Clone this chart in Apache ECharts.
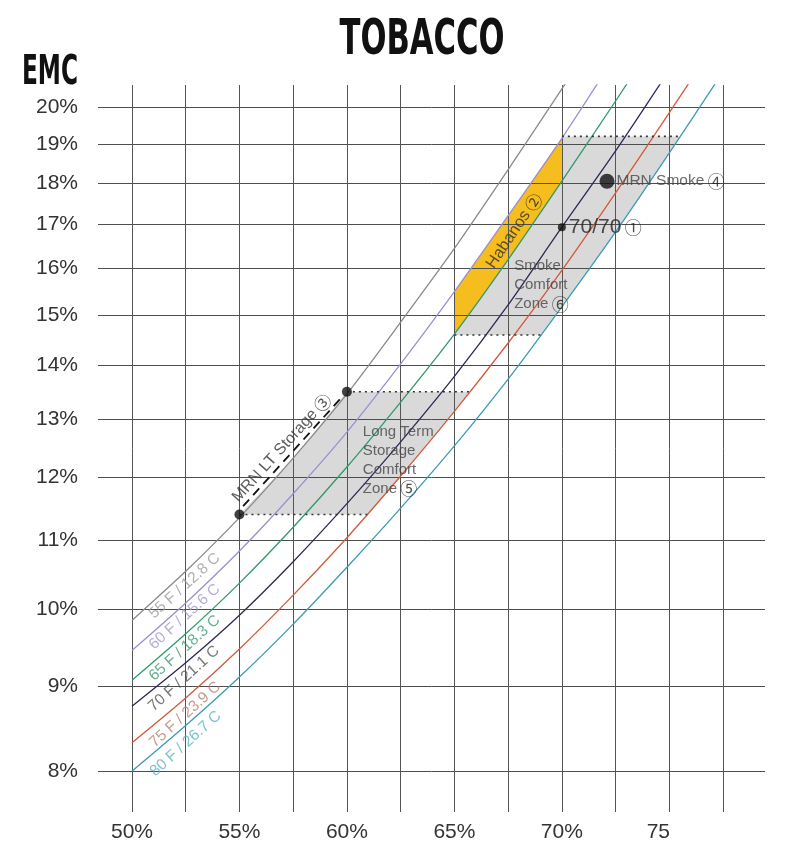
<!DOCTYPE html>
<html><head><meta charset="utf-8">
<script src="https://cdn.jsdelivr.net/npm/echarts@6/dist/echarts.min.js"></script>
<style>html,body{margin:0;padding:0;background:#fff}#c{width:793px;height:854px}</style>
</head><body><div id="c"></div>
<script>
// ---------- data ----------
const rhGrid   = [50, 52.5, 55, 57.5, 60, 62.5, 65, 67.5, 70, 72.5, 75, 77.5];
const rhTicks  = [50, 55, 60, 65, 70, 75];
const emcTicks = [8, 9, 10, 11, 12, 13, 14, 15, 16, 17, 18, 19, 20];

const curveNames = ['55 F / 12.8 C', '60 F / 15.6 C', '65 F / 18.3 C', '70 F / 21.1 C', '75 F / 23.9 C', '80 F / 26.7 C'];
const emc55F = [9.85, 10.54, 11.35, 12.32, 13.46, 14.86, 16.45, 18.34, 20.50, 22.90];
const emc60F = [9.45, 10.09, 10.84, 11.73, 12.77, 14.03, 15.50, 17.21, 19.15, 21.47];
const emc65F = [9.07, 9.67, 10.37, 11.20, 12.17, 13.31, 14.62, 16.20, 18.05, 20.16, 22.56];
const emc70F = [8.75, 9.29, 9.92, 10.68, 11.57, 12.60, 13.79, 15.22, 16.94, 18.82, 21.04];
const emc75F = [8.32, 8.85, 9.47, 10.20, 11.04, 12.02, 13.14, 14.44, 15.96, 17.76, 19.84, 22.19];
const emc80F = [8.00, 8.52, 9.11, 9.80, 10.60, 11.50, 12.53, 13.74, 15.18, 16.83, 18.77, 20.99];

// curve label anchors (RH %, EMC %)
const curveLabelRH  = [52.45, 52.45, 52.45, 52.42, 52.48, 52.5];
const curveLabelEMC = [10.33, 9.90, 9.48, 9.09, 8.65, 8.31];

// annotations
const point7070      = [70, 16.94];
const pointMrnSmoke  = [72.1, 18.05];
const ltStoragePts   = [[55, 11.4], [60, 13.5]];
const ltStorageDash  = [[55.17, 11.53], [59.67, 13.36]];
const ltStorageLabel = [56.97, 12.49];
const ltZoneLabel    = [60.74, 12.29];
const smokeZone      = {rhMin: 65, rhTurn: 70, low: 14.6, high: 19.2};
const smokeZoneLabel = [67.78, 15.64];
const habanosLabel   = [67.78, 16.85];

// ---------- helpers ----------
const pairs = arr => arr.map((v, i) => [rhGrid[i], v]);
function crossX(arr, level) {
  for (let i = 0; i < arr.length - 1; i++) {
    const a = arr[i], b = arr[i + 1];
    if ((a - level) * (b - level) <= 0) {
      const t = (Math.log(level) - Math.log(a)) / (Math.log(b) - Math.log(a));
      return rhGrid[i] + t * (rhGrid[i + 1] - rhGrid[i]);
    }
  }
  return null;
}
function inner(arr, lo, hi) { return pairs(arr).filter(p => p[1] > lo && p[1] < hi); }
const at = (arr, rh) => arr[rhGrid.indexOf(rh)];

// Long-term storage zone: from the MRN LT storage line to the 75F curve
const ltLo = ltStoragePts[0][1], ltHi = ltStoragePts[1][1];
const ltPoly = [ltStoragePts[0]]
  .concat(inner(emc55F, ltLo, ltHi).filter(p => p[0] > ltStoragePts[0][0] && p[0] < ltStoragePts[1][0]))
  .concat([ltStoragePts[1], [crossX(emc75F, ltHi), ltHi]])
  .concat(inner(emc75F, ltLo, ltHi).reverse())
  .concat([[crossX(emc75F, ltLo), ltLo]]);

// Smoke comfort zone: right of 60F curve (65..70% RH), left of 80F curve
const sz = smokeZone;
const smokePoly = [[sz.rhMin, sz.low], [sz.rhMin, at(emc60F, sz.rhMin)]]
  .concat(pairs(emc60F).filter(p => p[0] > sz.rhMin && p[0] < sz.rhTurn))
  .concat([[sz.rhTurn, at(emc60F, sz.rhTurn)], [sz.rhTurn, sz.high], [crossX(emc80F, sz.high), sz.high]])
  .concat(inner(emc80F, sz.low, sz.high).reverse())
  .concat([[crossX(emc80F, sz.low), sz.low]]);

// Habanos: between 60F and 65F curves, 65..70% RH
const habPoly = pairs(emc60F).filter(p => p[0] >= sz.rhMin && p[0] <= sz.rhTurn)
  .concat(pairs(emc65F).filter(p => p[0] >= sz.rhMin && p[0] <= sz.rhTurn).reverse());

// ---------- chart ----------
const chart = echarts.init(document.getElementById('c'), null, {renderer: 'canvas', width: 793, height: 854});
const FONT = '"Liberation Sans", Arial, sans-serif';
const CIRC = '"Noto Sans CJK SC", "DejaVu Sans", sans-serif';

function polySeries(points, color, z) {
  return {
    type: 'custom', coordinateSystem: 'cartesian2d', silent: true, z: z,
    data: points,
    renderItem: (params, api) => {
      if (params.dataIndex !== 0) return null;
      return {type: 'polygon', shape: {points: points.map(p => api.coord(p))}, style: {fill: color}};
    }
  };
}
function dotted(a, b) {
  return {type: 'line', data: [a, b], symbol: 'none', silent: true, z: 6,
    lineStyle: {color: '#333', width: 1.6, type: [2, 4]}};
}

const curveColors = ['#8a8a8a', '#9b8fd0', '#2f9a6a', '#2c2858', '#d25a3c', '#3a9cb4'];
const labelColors = ['#9c9c9c', '#a49bc4', '#3f9a72', '#555555', '#b7836f', '#5db3c2'];
const curveData = [emc55F, emc60F, emc65F, emc70F, emc75F, emc80F];

const series = [];
series.push(polySeries(ltPoly, '#d9d9d9', 1));
series.push(polySeries(smokePoly, '#d9d9d9', 1));
series.push(polySeries(habPoly, '#f5bd1e', 1));

curveData.forEach((arr, i) => {
  series.push({
    type: 'line', name: curveNames[i], data: pairs(arr), symbol: 'none', smooth: 0.25,
    silent: true, z: 5, lineStyle: {color: curveColors[i], width: 1.3}
  });
  series.push({
    type: 'scatter', data: [[curveLabelRH[i], curveLabelEMC[i]]], symbolSize: 0, silent: true, z: 7,
    label: {show: true, position: 'inside', rotate: 42, formatter: curveNames[i],
      fontSize: 15.5, fontFamily: FONT, color: labelColors[i]}
  });
});

// dotted boundaries
series.push(dotted(ltStoragePts[0], [crossX(emc75F, ltLo), ltLo]));
series.push(dotted(ltStoragePts[1], [crossX(emc75F, ltHi), ltHi]));
series.push(dotted([sz.rhTurn, sz.high], [crossX(emc80F, sz.high), sz.high]));
series.push(dotted([sz.rhMin, sz.low], [crossX(emc80F, sz.low), sz.low]));

// MRN LT storage dashed line + dots
series.push({type: 'line', data: ltStorageDash, symbol: 'none', silent: true, z: 6,
  lineStyle: {color: '#111', width: 1.8, type: [9, 6]}});
series.push({type: 'scatter', data: ltStoragePts, symbolSize: 10, itemStyle: {color: '#111'}, z: 8, silent: true});

const rich = {
  c: {fontFamily: CIRC, fontSize: 17, color: '#222'}
};

// text annotations
series.push({type: 'scatter', data: [point7070], symbolSize: 8, itemStyle: {color: '#111'}, z: 8, silent: true,
  label: {show: true, position: 'right', distance: 3, formatter: '{a|70/70} {c|①}',
    rich: {a: {fontFamily: FONT, fontSize: 21, color: '#222'}, c: rich.c}}});
series.push({type: 'scatter', data: [pointMrnSmoke], symbolSize: 15, itemStyle: {color: '#111'}, z: 8, silent: true,
  label: {show: true, position: 'right', distance: 2, formatter: '{a|MRN Smoke} {c|④}',
    rich: {a: {fontFamily: FONT, fontSize: 15.5, color: '#444'}, c: rich.c}}});
series.push({type: 'scatter', data: [habanosLabel], symbolSize: 0, z: 8, silent: true,
  label: {show: true, position: 'inside', rotate: 56, formatter: '{a|Habanos} {c|②}',
    rich: {a: {fontFamily: FONT, fontSize: 16.5, color: '#333'}, c: rich.c}}});
series.push({type: 'scatter', data: [ltStorageLabel], symbolSize: 0, z: 8, silent: true,
  label: {show: true, position: 'inside', rotate: 48, formatter: '{a|MRN LT Storage} {c|③}',
    rich: {a: {fontFamily: FONT, fontSize: 16, color: '#333'}, c: rich.c}}});
series.push({type: 'scatter', data: [smokeZoneLabel], symbolSize: 0, z: 8, silent: true,
  label: {show: true, position: 'right', distance: 0, align: 'left',
    formatter: '{a|Smoke}\n{a|Comfort}\n{a|Zone} {c|⑥}',
    rich: {a: {fontFamily: FONT, fontSize: 15, color: '#444', lineHeight: 19}, c: Object.assign({}, rich.c, {lineHeight: 19})}}});
series.push({type: 'scatter', data: [ltZoneLabel], symbolSize: 0, z: 8, silent: true,
  label: {show: true, position: 'right', distance: 0, align: 'left',
    formatter: '{a|Long Term}\n{a|Storage}\n{a|Comfort}\n{a|Zone} {c|⑤}',
    rich: {a: {fontFamily: FONT, fontSize: 15, color: '#444', lineHeight: 19}, c: Object.assign({}, rich.c, {lineHeight: 19})}}});

// title texts squeezed to a condensed look
function measure(text, font) {
  const ctx = document.createElement('canvas').getContext('2d');
  ctx.font = font; return ctx.measureText(text).width;
}
const titleFont = 'bold 50px "Liberation Sans Narrow", "DejaVu Sans Condensed", "Liberation Sans", sans-serif';
const emcFont = 'bold 40px "Liberation Sans Narrow", "DejaVu Sans Condensed", "Liberation Sans", sans-serif';

chart.setOption({
  backgroundColor: '#fff',
  animation: false,
  grid: {left: 98, right: 28, top: 85, bottom: 42, containLabel: false},
  xAxis: {
    type: 'value', min: 48.42, max: 79.45, z: 3,
    axisLine: {show: false},
    axisTick: {show: false, customValues: rhGrid},
    axisLabel: {customValues: rhTicks, margin: 10, fontSize: 21, color: '#333', fontFamily: FONT,
      formatter: v => v === 75 ? '{s|75}' : v + '%',
      rich: {s: {padding: [0, 22, 0, 0], fontSize: 21, color: '#333', fontFamily: FONT}}},
    splitLine: {show: true, lineStyle: {color: '#555', width: 1}}
  },
  yAxis: {
    type: 'log', logBase: 10, min: 7.563, max: 20.61, z: 3,
    axisLine: {show: false},
    axisTick: {show: false, customValues: emcTicks},
    axisLabel: {customValues: emcTicks, margin: 20, fontSize: 21, color: '#333', fontFamily: FONT,
      formatter: v => Math.round(v) + '%'},
    splitLine: {show: true, lineStyle: {color: '#4d4d4d', width: 1}}
  },
  graphic: [
    {type: 'text', x: 422, y: 41, scaleX: 165 / measure('TOBACCO', titleFont),
      style: {text: 'TOBACCO', font: titleFont, fill: '#111', textAlign: 'center', textVerticalAlign: 'middle'}},
    {type: 'text', x: 50, y: 74, scaleX: 56 / measure('EMC', emcFont),
      style: {text: 'EMC', font: emcFont, fill: '#111', textAlign: 'center', textVerticalAlign: 'middle'}}
  ],
  series: series
});
</script></body></html>
